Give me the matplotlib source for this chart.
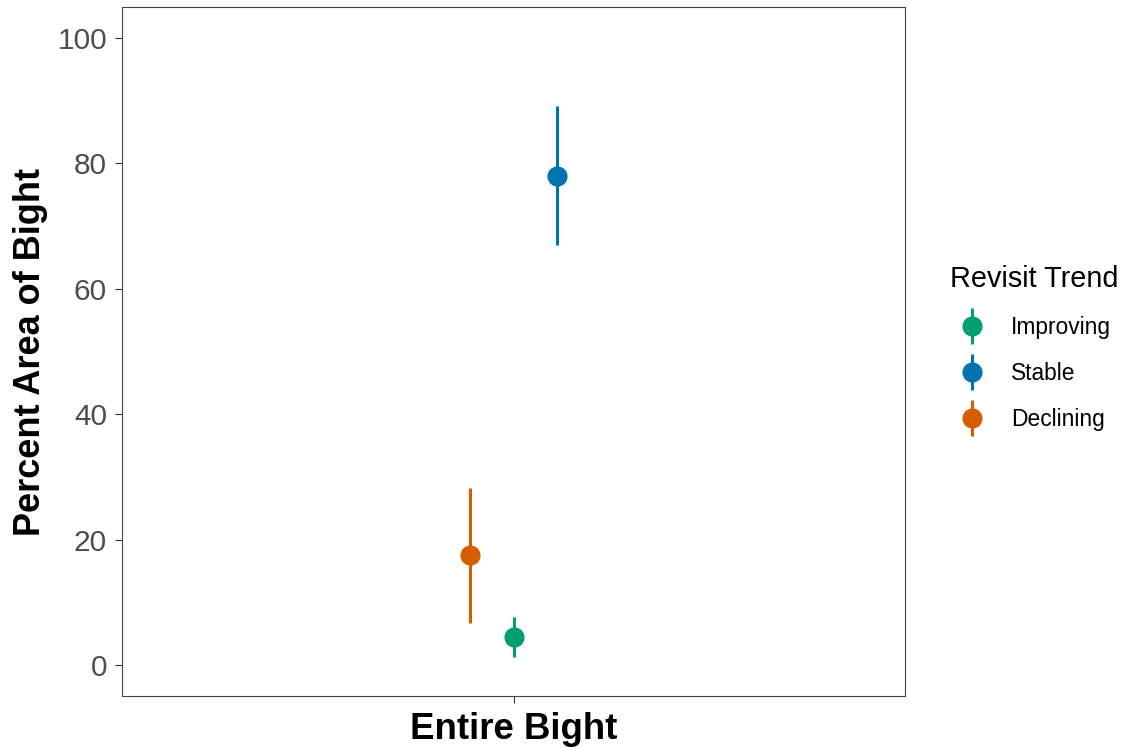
import matplotlib
matplotlib.use("Agg")
import matplotlib.pyplot as plt
from matplotlib.legend_handler import HandlerErrorbar
from matplotlib.container import ErrorbarContainer

plt.rcParams['font.family'] = ['Liberation Sans', 'DejaVu Sans']

# estimates with lower / upper bounds, one per trend
trends = ["Improving", "Stable", "Declining"]
estimate = [4.5, 78.0, 17.5]
lower = [1.3, 66.9, 6.7]
upper = [7.6, 89.1, 28.2]
colors = ["#009E73", "#0072B2", "#D55E00"]
dodge = [0.0, 0.067, -0.067]
region = "Entire Bight"

fig = plt.figure(figsize=(11.27, 7.49), dpi=100)
ax = fig.add_axes([122 / 1127, 53 / 749, 783 / 1127, 689 / 749])

for name, est, lo, hi, col, dx in zip(trends, estimate, lower, upper, colors, dodge):
    ax.errorbar([1 + dx], [est], yerr=[[est - lo], [hi - est]], fmt='o',
                color=col, ecolor=col, elinewidth=2.2, markersize=13.5,
                capsize=0, label=name)

ax.set_xlim(0.4, 1.6)
ax.set_ylim(-4.95, 104.9)
ax.set_xticks([1])
ax.set_xticklabels([region], fontsize=26.4, fontweight='bold', color='black')
ax.set_yticks([0, 20, 40, 60, 80, 100])
ax.tick_params(axis='y', labelsize=21.5, labelcolor='#4D4D4D', pad=5.8)
ax.tick_params(axis='x', pad=6.5)
ax.tick_params(length=5, width=0.8, color='#333333')
ax.set_ylabel("Percent Area of Bight", fontsize=26, fontweight='bold')
ax.yaxis.set_label_coords(-0.094, 0.5)
for sp in ax.spines.values():
    sp.set_color('#444444')
    sp.set_linewidth(0.8)

handles, labels = ax.get_legend_handles_labels()
leg = fig.legend(handles, labels, title="Revisit Trend", loc='upper left',
                 bbox_to_anchor=(950 / 1127, 0.646), frameon=False,
                 fontsize=16.4, title_fontsize=20.8, borderpad=0,
                 borderaxespad=0, handlelength=1.93, handletextpad=0.75,
                 labelspacing=1.01, alignment='left',
                 handler_map={ErrorbarContainer: HandlerErrorbar(xerr_size=0.79)})

fig.savefig("out.png", dpi=100)
